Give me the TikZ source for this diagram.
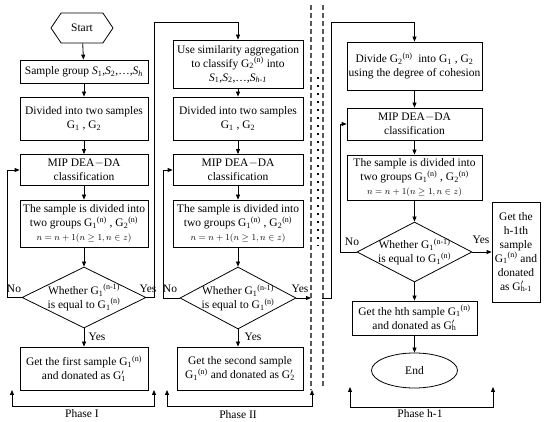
\documentclass[tikz,border=0pt]{standalone}
\usepackage{fontspec}
\setmainfont{Liberation Serif}
\usetikzlibrary{shapes.geometric,shapes.symbols,arrows.meta}
\newcommand{\Si}[1]{\textit{S}\textsubscript{#1}}
\newcommand{\Gs}[1]{G\textsubscript{#1}}
\newcommand{\Gn}[2]{G\textsubscript{#1}\textsuperscript{(#2)}}
\newcommand{\Gp}[1]{G\rlap{\textsuperscript{$\prime$}}\textsubscript{#1}}
\begin{document}
\begin{tikzpicture}[x=1pt,y=-1pt,
  every node/.style={font=\fontsize{11.5}{14}\selectfont},
  wh/.style 2 args={minimum width=#1pt, minimum height=#2pt},
  box/.style={draw, rectangle, inner sep=1pt, align=center, line width=0.8pt},
  dec/.style={draw, diamond, inner sep=0pt, line width=0.8pt},
  con/.style={line width=0.8pt},
  arr/.style={con, -{Triangle[length=5pt,width=4pt]}},
  brk/.style={con, {Triangle[length=5pt,width=4pt]}-{Triangle[length=5pt,width=4pt]}},
  lbl/.style={inner sep=1pt},
  dsh/.style={draw=black!65, line width=1.2pt, dash pattern=on 5pt off 3pt}]
\useasboundingbox (0,0) rectangle (550,422);

% ---------- Phase I ----------
\node[signal, signal to=east and west, draw, line width=0.8pt, wh={62}{30}, signal pointer angle=112, inner sep=0pt] (start) at (82,28) {Start};
\node[box, wh={128}{23}] (s1) at (84,71.5) {Sample group \Si1,\Si2,\ldots,\Si{\textit{h}}};
\node[box, wh={128}{43}] (d1) at (84,118.5) {Divided into two samples\\\Gs1 , \Gs2};
\node[box, wh={128}{31}] (m1) at (84,170) {MIP DEA$-$DA\\classification};
\node[box, wh={128}{47}] (g1) at (84,223.5) {The sample is divided into\\two groups \Gn1n , \Gn2n\\{\fontsize{9.5}{11}\selectfont $n=n+1(n\geq 1,n\in z)$}};
\node[dec, wh={124}{61}] (q1) at (84,297.5) {};
\node[align=center] (q1t) at (q1) {Whether \Gn1{n-1}\\is equal to \Gn1n};
\node[box, wh={128}{43}] (f1) at (84,368.5) {Get the first sample \Gn1n\\and donated as \Gp1};
\node[lbl] (no1) at (14,289) {No};
\node[lbl] (yes1) at (148,289) {Yes};
\node[lbl] (yes1b) at (97,337) {Yes};

\draw[arr] (start) -- (s1);
\draw[arr] (s1) -- (d1);
\draw[arr] (d1) -- (m1);
\draw[arr] (m1) -- (g1);
\draw[arr] (g1) -- (q1);
\draw[arr] (q1) -- (f1);
\draw[arr] (q1.west) -- (7,297.5) |- (m1.west);

% ---------- Phase II ----------
\node[box, wh={130}{48}] (a2) at (238,64) {Use similarity aggregation\\to classify \Gn2n into\\\Si1,\Si2,\ldots,\Si{\textit{h-1}}};
\node[box, wh={130}{43}] (d2) at (238,118.5) {Divided into two samples\\\Gs1 , \Gs2};
\node[box, wh={130}{31}] (m2) at (238,170) {MIP DEA$-$DA\\classification};
\node[box, wh={130}{47}] (g2) at (238,223.5) {The sample is divided into\\two groups \Gn1n , \Gn2n\\{\fontsize{9.5}{11}\selectfont $n=n+1(n\geq 1,n\in z)$}};
\node[dec, wh={116}{62}] (q2) at (238,298) {};
\node[align=center] (q2t) at (q2) {Whether \Gn1{n-1}\\is equal to \Gn1n};
\node[box, wh={126}{43}] (f2) at (240,368.5) {Get the second sample\\\Gn1n and donated as \Gp2};
\node[lbl] (no2) at (170,289) {No};
\node[lbl] (yes2) at (300,289) {Yes};
\node[lbl] (yes2b) at (253,337) {Yes};

\draw[arr] (q1.east) -- (154,297.5) -- (154,22) -| (a2.north);
\draw[arr] (a2) -- (d2);
\draw[arr] (d2) -- (m2);
\draw[arr] (m2) -- (g2);
\draw[arr] (g2) -- (q2);
\draw[arr] (q2.south) -- (q2.south |- f2.north);
\draw[arr] (q2.west) -- (163,298) |- (m2.west);
\coordinate (out2) at (311,298);
\draw[arr] (q2.east) -- (out2);

% ---------- separators ----------
\draw[dsh] (311,5) -- (311,390);
\draw[dsh] (323,5) -- (323,388);
\draw[line width=1.8pt, dash pattern=on 1.8pt off 6.2pt] (318,77) -- (318,246);

% ---------- Phase h-1 ----------
\node[box, wh={135}{48}] (b3) at (414.5,66) {Divide \Gn2n\ \ into \Gs1 , \Gs2\\using the degree of cohesion};
\node[box, wh={135}{32}] (m3) at (414.5,124) {MIP DEA$-$DA\\classification};
\node[box, wh={135}{45}] (g3) at (414.5,177.5) {The sample is divided into\\two groups \Gn1n , \Gn2n\\{\fontsize{9.5}{11}\selectfont $n=n+1(n\geq 1,n\in z)$}};
\node[dec, wh={115}{60}] (q3) at (414.5,252) {};
\node[align=center] (q3t) at (q3) {Whether \Gn1{n-1}\\is equal to \Gn1n};
\node[box, wh={125}{34}] (f3) at (414.5,318) {Get the hth sample \Gn1n\\and donated as \Gp{h}};
\node[draw, ellipse, line width=0.8pt, wh={86}{35}] (e3) at (414.5,370.5) {End};
\node[box, wh={48}{100}, align=center] (r3) at (516,252) {Get the\\h-1th\\sample\\\Gn1n and\\donated\\as \Gp{h-1}};
\node[lbl] (no3) at (352,242) {No};
\node[lbl] (yes3) at (481,240) {Yes};

\coordinate (in3) at (322,298);
\draw[arr] (in3) -- (331,298) -- (331,22) -| (b3.north);
\draw[arr] (b3) -- (m3);
\draw[arr] (m3) -- (g3);
\draw[arr] (g3) -- (q3);
\draw[arr] (q3) -- (f3);
\draw[arr] (f3) -- (e3);
\draw[arr] (q3.west) -- (340,252) |- (m3.west);
\draw[arr] (q3.east) -- (r3.west);

% ---------- phase brackets ----------
\draw[brk] (12,390) -- (12,406) -- (154,406) -- (154,390);
\node (ph1) at (82,414) {Phase I};
\draw[brk] (167,390) -- (167,406) -- (312,406) -- (312,390);
\node (ph2) at (238,415) {Phase II};
\draw[brk] (350,387) -- (350,407) -- (493,407) -- (493,387);
\node (ph3) at (420,414) {Phase h-1};
\end{tikzpicture}
\end{document}
